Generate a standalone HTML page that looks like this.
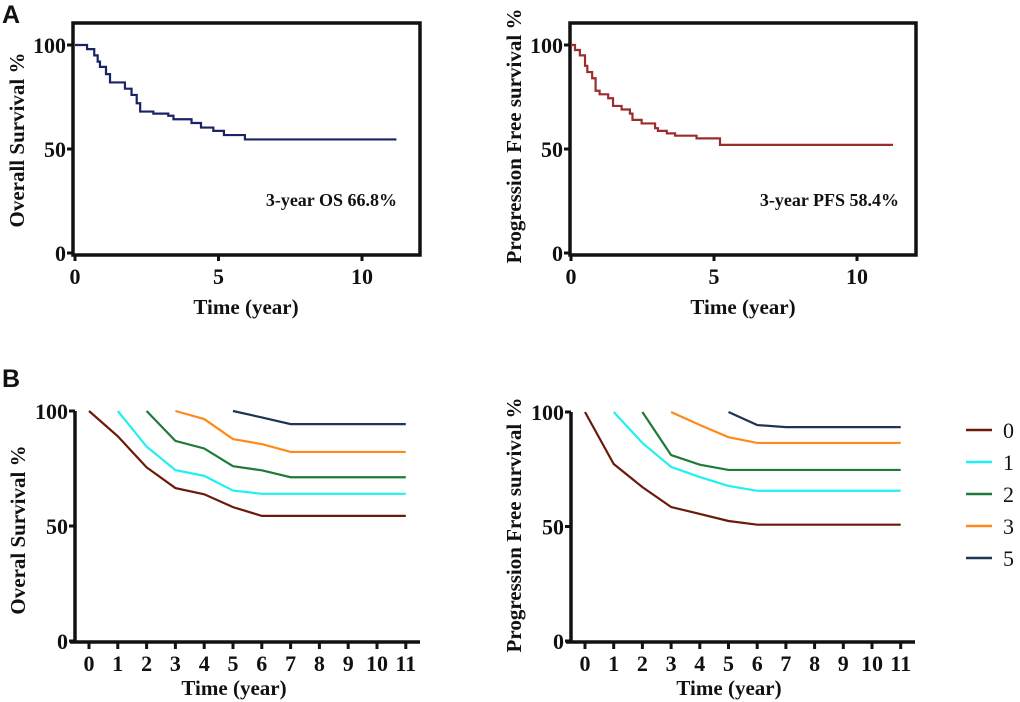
<!DOCTYPE html>
<html><head><meta charset="utf-8">
<style>
body{margin:0;background:#fff;}
svg{display:block;}
text{font-family:"Liberation Serif",serif;font-weight:bold;fill:#111;}
.pl{font-family:"Liberation Sans",sans-serif;font-size:25px;}
</style></head>
<body>
<svg id="fig" width="1020" height="702" viewBox="0 0 1020 702"></svg>
<script>
// Panel A: Kaplan-Meier step data (time in years, survival %)
const osTimes = [0,0.42,0.67,0.79,0.87,1.08,1.22,1.74,1.97,2.15,2.27,2.73,3.25,3.43,4.06,4.39,4.82,5.19,5.92,11.2];
const osVals  = [100,98,95,92,89.5,86,82,79,76,72,68,67,66,64.3,62.5,60.3,58.7,56.7,54.6,54.6];
const pfsTimes = [0,0.14,0.31,0.49,0.57,0.74,0.86,1.0,1.3,1.47,1.77,2.06,2.15,2.47,2.94,3.04,3.35,3.64,4.39,5.21,11.26];
const pfsVals  = [100,97.6,95,90,87,84,78,76.3,74.4,70.7,69,67,64,62.3,60,58.7,57.5,56.4,55.1,52,52];
// Panel B: conditional survival by years survived
const groupLabels = ["0","1","2","3","5"];
const groupColors = ["#6b1a0a","#22f0f0","#1f7a3a","#ff8a1a","#1f3556"];
const groupStart = [0,1,2,3,5];
const osCond0 = [100,89,75.5,66.5,63.8,58.2,54.4,54.4,54.4,54.4,54.4,54.4];
const osCond1 = [100,84.5,74.3,71.8,65.4,64,64,64,64,64,64];
const osCond2 = [100,87,83.7,76,74.2,71.2,71.2,71.2,71.2,71.2];
const osCond3 = [100,96.5,87.8,85.6,82.2,82.2,82.2,82.2,82.2];
const osCond5 = [100,97.2,94.3,94.3,94.3,94.3,94.3];
const pfsCond0 = [100,77.3,67.2,58.5,55.5,52.4,50.8,50.8,50.8,50.8,50.8,50.8];
const pfsCond1 = [100,86.5,76,71.6,67.7,65.6,65.6,65.6,65.6,65.6,65.6];
const pfsCond2 = [100,81.2,77,74.7,74.7,74.7,74.7,74.7,74.7,74.7];
const pfsCond3 = [100,94.3,89,86.5,86.5,86.5,86.5,86.5,86.5];
const pfsCond5 = [100,94.3,93.4,93.4,93.4,93.4,93.4];
const osCond = [osCond0,osCond1,osCond2,osCond3,osCond5];
const pfsCond = [pfsCond0,pfsCond1,pfsCond2,pfsCond3,pfsCond5];
const ticksA = [0,5,10];
const ticksB = [0,1,2,3,4,5,6,7,8,9,10,11];
const yTicks = [0,50,100];

const NS="http://www.w3.org/2000/svg";
const svg=document.getElementById('fig');
function el(tag,attrs,parent,txt){const e=document.createElementNS(NS,tag);for(const k in attrs)e.setAttribute(k,attrs[k]);if(txt!==undefined)e.textContent=txt;(parent||svg).appendChild(e);return e;}

function panelLetter(t,x,y,name){
  const e=el('text',{x:x,y:y,class:'pl'},svg,t);
  
  
}
panelLetter('A',2,23,'panel-a-label');
panelLetter('B',2,387,'panel-b-label');

function yAxisText(g,yScale,xAxisX){
  yTicks.forEach(v=>{
    const t=el('text',{x:xAxisX-7,y:yScale(v)+8,'text-anchor':'end','font-size':'22'},g,String(v));
    
    
    el('line',{x1:xAxisX-6,x2:xAxisX,y1:yScale(v),y2:yScale(v),stroke:'#111','stroke-width':3},g);
  });
}
function yTitle(g,x,y,txt){
  const t=el('text',{x:0,y:0,transform:`translate(${x},${y}) rotate(-90)`,'text-anchor':'middle','font-size':'21'},g,txt);
  
  
}
function xTitle(g,x,y){
  const t=el('text',{x:x,y:y,'text-anchor':'middle','font-size':'21'},g,'Time (year)');
  
  
}

function kmPanel(cfg){
  const g=el('g',{});
  
  
  const xs=t=>cfg.x0+t*cfg.pxYr, ys=v=>cfg.y0-v*cfg.pxPct;
  const fr=el('rect',{x:cfg.box[0],y:cfg.box[1],width:cfg.box[2]-cfg.box[0],height:cfg.box[3]-cfg.box[1],fill:'none',stroke:'#111','stroke-width':3.5},g);
  
  
  yAxisText(g,ys,cfg.box[0]);
  ticksA.forEach(t=>{
    el('line',{x1:xs(t),x2:xs(t),y1:cfg.box[3],y2:cfg.box[3]+6,stroke:'#111','stroke-width':3},g);
    const lb=el('text',{x:xs(t),y:cfg.box[3]+29,'text-anchor':'middle','font-size':'22'},g,String(t));
    
    
  });
  let d=`M${xs(cfg.times[0])},${ys(cfg.vals[0])}`;
  for(let i=1;i<cfg.times.length;i++){d+=`H${xs(cfg.times[i])}V${ys(cfg.vals[i])}`;}
  const p=el('path',{d:d,fill:'none',stroke:cfg.color,'stroke-width':2.2},g);
  
  
  const a=el('text',{x:cfg.annX,y:206,'text-anchor':'end','font-size':'18'},g,cfg.ann);
  
  
  yTitle(g,cfg.titleX,cfg.titleY,cfg.yTitle);
  xTitle(g,cfg.xTitleX,314);
}
kmPanel({name:'os-km-chart',x0:75,pxYr:28.7,y0:253,pxPct:2.08,box:[73,23,420,255],times:osTimes,vals:osVals,color:'#1a2366',lineName:'os-curve',ann:'3-year OS 66.8%',annX:397,yTitle:'Overall Survival %',titleX:24,titleY:140,xTitleX:246});
kmPanel({name:'pfs-km-chart',x0:571,pxYr:28.6,y0:253,pxPct:2.08,box:[570,23,916,255],times:pfsTimes,vals:pfsVals,color:'#9b2d2d',lineName:'pfs-curve',ann:'3-year PFS 58.4%',annX:899,yTitle:'Progression Free  survival %',titleX:521,titleY:136,xTitleX:743});

function condPanel(cfg){
  const g=el('g',{});
  
  
  const xs=t=>cfg.x0+t*cfg.pxYr, ys=v=>cfg.y0-v*cfg.pxPct;
  el('line',{x1:cfg.ax,x2:cfg.ax,y1:ys(100),y2:cfg.y0+2,stroke:'#111','stroke-width':3.5},g);
  el('line',{x1:cfg.ax-5,x2:cfg.axR,y1:cfg.y0+1,y2:cfg.y0+1,stroke:'#111','stroke-width':3.5},g);
  yAxisText(g,ys,cfg.ax);
  ticksB.forEach(t=>{
    el('line',{x1:xs(t),x2:xs(t),y1:cfg.y0+1,y2:cfg.y0+8,stroke:'#111','stroke-width':3},g);
    const lb=el('text',{x:xs(t),y:cfg.y0+30,'text-anchor':'middle','font-size':'22'},g,String(t));
    
    
  });
  cfg.series.forEach((vals,gi)=>{
    const pts=vals.map((v,i)=>`${xs(groupStart[gi]+i)},${ys(v)}`).join(' ');
    const pl=el('polyline',{points:pts,fill:'none',stroke:groupColors[gi],'stroke-width':2.2},g);
    
    
  });
  yTitle(g,cfg.titleX,cfg.titleY,cfg.yTitle);
  xTitle(g,cfg.xTitleX,695);
}
condPanel({name:'os-conditional-chart',x0:89,pxYr:28.8,y0:641,pxPct:2.3,ax:75,axR:420,series:osCond,yTitle:'Overal Survival %',titleX:25,titleY:530,xTitleX:234});
condPanel({name:'pfs-conditional-chart',x0:585,pxYr:28.7,y0:641,pxPct:2.29,ax:571,axR:915,series:pfsCond,yTitle:'Progression Free  survival %',titleX:521,titleY:525,xTitleX:729});

const lg=el('g',{});


groupLabels.forEach((lab,i)=>{
  const y=430+i*32;
  const ln=el('line',{x1:966,x2:992,y1:y,y2:y,stroke:groupColors[i],'stroke-width':2.5},lg);
  
  
  const t=el('text',{x:1003,y:y+8,'font-size':'22',style:'font-weight:normal'},lg,lab);
  
  
});
</script>
</body></html>
